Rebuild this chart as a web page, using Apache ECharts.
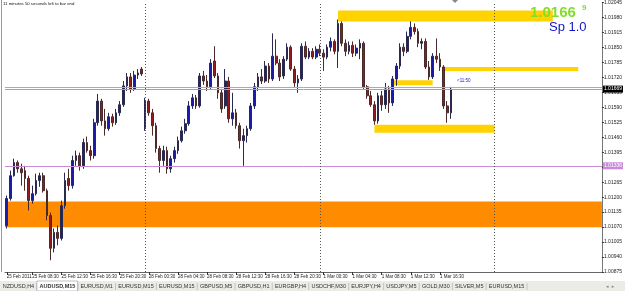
<!DOCTYPE html>
<html>
<head>
<meta charset="utf-8">
<script src="https://cdn.jsdelivr.net/npm/echarts@6/dist/echarts.min.js"></script>
<style>
  html, body { margin: 0; padding: 0; background: #fff; }
  #main { width: 625px; height: 291px; }
</style>
</head>
<body>
<div id="main"></div>
<script>
// AUDUSD M30 bars, [open, close, low, high]
const feb25 = [
  [1.01077, 1.01194, 1.01064, 1.01207], [1.01194, 1.01293, 1.01185, 1.01315],
  [1.01293, 1.01350, 1.01289, 1.01367], [1.01350, 1.01323, 1.01306, 1.01359],
  [1.01323, 1.01306, 1.01250, 1.01345], [1.01315, 1.01281, 1.01228, 1.01336],
  [1.01281, 1.01185, 1.01142, 1.01293], [1.01185, 1.01215, 1.01172, 1.01250],
  [1.01215, 1.01272, 1.01207, 1.01302], [1.01272, 1.01293, 1.01245, 1.01306],
  [1.01293, 1.01228, 1.01220, 1.01306], [1.01228, 1.01120, 1.01099, 1.01237],
  [1.01120, 1.00978, 1.00926, 1.01133], [1.00978, 1.01047, 1.00960, 1.01064],
  [1.01047, 1.01021, 1.00991, 1.01077], [1.01021, 1.01163, 1.01012, 1.01185],
  [1.01163, 1.01272, 1.01150, 1.01306], [1.01281, 1.01250, 1.01228, 1.01323],
  [1.01250, 1.01359, 1.01237, 1.01380], [1.01359, 1.01380, 1.01336, 1.01402],
  [1.01380, 1.01336, 1.01315, 1.01393], [1.01336, 1.01437, 1.01323, 1.01454],
  [1.01437, 1.01402, 1.01393, 1.01463], [1.01402, 1.01380, 1.01359, 1.01423],
  [1.01380, 1.01523, 1.01367, 1.01540], [1.01523, 1.01617, 1.01510, 1.01648],
  [1.01617, 1.01531, 1.01510, 1.01627], [1.01531, 1.01497, 1.01467, 1.01583],
  [1.01497, 1.01549, 1.01488, 1.01566], [1.01549, 1.01523, 1.01506, 1.01562],
  [1.01523, 1.01566, 1.01514, 1.01583], [1.01566, 1.01601, 1.01553, 1.01617],
  [1.01601, 1.01683, 1.01592, 1.01704], [1.01683, 1.01722, 1.01661, 1.01739],
  [1.01722, 1.01670, 1.01653, 1.01739], [1.01670, 1.01730, 1.01661, 1.01748],
  [1.01730, 1.01739, 1.01713, 1.01756], [1.01756, 1.01735, 1.01726, 1.01765]
];
const feb28 = [
  [1.01497, 1.01617, 1.01488, 1.01631], [1.01617, 1.01566, 1.01553, 1.01627],
  [1.01566, 1.01510, 1.01467, 1.01583], [1.01510, 1.01411, 1.01393, 1.01523],
  [1.01411, 1.01359, 1.01306, 1.01423], [1.01359, 1.01402, 1.01336, 1.01423],
  [1.01402, 1.01323, 1.01302, 1.01419], [1.01323, 1.01367, 1.01306, 1.01380],
  [1.01367, 1.01402, 1.01350, 1.01419], [1.01402, 1.01445, 1.01388, 1.01463],
  [1.01445, 1.01488, 1.01437, 1.01506], [1.01488, 1.01519, 1.01475, 1.01540],
  [1.01519, 1.01596, 1.01510, 1.01617], [1.01596, 1.01631, 1.01583, 1.01648],
  [1.01631, 1.01596, 1.01583, 1.01644], [1.01596, 1.01726, 1.01588, 1.01739],
  [1.01726, 1.01704, 1.01687, 1.01748], [1.01704, 1.01679, 1.01661, 1.01730],
  [1.01679, 1.01782, 1.01670, 1.01799], [1.01791, 1.01726, 1.01717, 1.01855],
  [1.01726, 1.01653, 1.01627, 1.01739], [1.01653, 1.01583, 1.01566, 1.01670],
  [1.01596, 1.01704, 1.01583, 1.01756], [1.01704, 1.01540, 1.01523, 1.01722],
  [1.01540, 1.01566, 1.01510, 1.01653], [1.01566, 1.01510, 1.01497, 1.01583],
  [1.01510, 1.01445, 1.01411, 1.01523], [1.01445, 1.01467, 1.01336, 1.01497],
  [1.01467, 1.01497, 1.01437, 1.01510], [1.01497, 1.01596, 1.01488, 1.01609],
  [1.01596, 1.01679, 1.01583, 1.01696], [1.01679, 1.01722, 1.01661, 1.01739],
  [1.01722, 1.01704, 1.01691, 1.01756], [1.01704, 1.01769, 1.01696, 1.01791],
  [1.01769, 1.01713, 1.01696, 1.01782], [1.01713, 1.01812, 1.01704, 1.01911],
  [1.01812, 1.01782, 1.01773, 1.01885], [1.01782, 1.01722, 1.01704, 1.01799],
  [1.01726, 1.01799, 1.01713, 1.01812], [1.01799, 1.01851, 1.01791, 1.01868],
  [1.01851, 1.01756, 1.01748, 1.01859], [1.01756, 1.01696, 1.01679, 1.01769],
  [1.01696, 1.01713, 1.01653, 1.01730], [1.01713, 1.01855, 1.01704, 1.01868],
  [1.01855, 1.01808, 1.01799, 1.01876], [1.01808, 1.01833, 1.01799, 1.01847],
  [1.01833, 1.01808, 1.01799, 1.01847], [1.01808, 1.01842, 1.01799, 1.01855]
];
const mar01 = [
  [1.01842, 1.01825, 1.01812, 1.01863], [1.01825, 1.01808, 1.01748, 1.01842],
  [1.01808, 1.01851, 1.01799, 1.01863], [1.01851, 1.01876, 1.01833, 1.01893],
  [1.01876, 1.01833, 1.01820, 1.01885], [1.01833, 1.01954, 1.01761, 1.01971],
  [1.01954, 1.01868, 1.01855, 1.01963], [1.01868, 1.01833, 1.01812, 1.01885],
  [1.01833, 1.01859, 1.01820, 1.01876], [1.01859, 1.01825, 1.01808, 1.01876],
  [1.01825, 1.01847, 1.01812, 1.01863], [1.01847, 1.01868, 1.01799, 1.01885],
  [1.01868, 1.01679, 1.01670, 1.01876], [1.01679, 1.01640, 1.01627, 1.01687],
  [1.01640, 1.01601, 1.01592, 1.01661], [1.01601, 1.01531, 1.01514, 1.01617],
  [1.01531, 1.01640, 1.01519, 1.01653], [1.01640, 1.01601, 1.01575, 1.01661],
  [1.01601, 1.01670, 1.01583, 1.01696], [1.01670, 1.01609, 1.01566, 1.01683],
  [1.01609, 1.01713, 1.01596, 1.01726], [1.01713, 1.01769, 1.01683, 1.01782],
  [1.01769, 1.01851, 1.01756, 1.01868], [1.01851, 1.01833, 1.01812, 1.01868],
  [1.01833, 1.01898, 1.01825, 1.01919], [1.01898, 1.01937, 1.01885, 1.01963],
  [1.01937, 1.01919, 1.01906, 1.01954], [1.01919, 1.01868, 1.01851, 1.01932],
  [1.01868, 1.01876, 1.01842, 1.01889], [1.01876, 1.01765, 1.01756, 1.01889],
  [1.01765, 1.01722, 1.01709, 1.01791], [1.01722, 1.01812, 1.01713, 1.01825],
  [1.01812, 1.01799, 1.01782, 1.01889], [1.01799, 1.01765, 1.01748, 1.01825],
  [1.01765, 1.01596, 1.01583, 1.01773], [1.01596, 1.01566, 1.01523, 1.01617],
  [1.01566, 1.01669, 1.01540, 1.01679]
];

// trading sessions: day, first half-hour slot, slot count
const sessions = [["25 Feb", 10, 38], ["28 Feb", 0, 48], ["1 Mar", 0, 48], ["2 Mar", 0, 30]];

// time axis labels
const tickIdx = [0, 7, 15, 23, 31, 39, 47, 55, 63, 71, 79, 87, 95, 103, 111, 119];
const tickLabels = ["25 Feb 2011", "25 Feb 08:30", "25 Feb 12:30", "25 Feb 16:30", "25 Feb 20:30",
  "28 Feb 00:30", "28 Feb 04:30", "28 Feb 08:30", "28 Feb 12:30", "28 Feb 16:30", "28 Feb 20:30",
  "1 Mar 00:30", "1 Mar 04:30", "1 Mar 08:30", "1 Mar 12:30", "1 Mar 16:30"];

// day separators (slot index)
const daySeparators = [38, 86, 134];

// price levels
const askPrice = 1.01679;
const bidPrice = 1.01669;
const purpleLevel = 1.01336;

// zones: [fromSlot, toSlot, top, bottom]
const yellowZones = [
  [91, 150, 1.02010, 1.01963],
  [120, 157, 1.01765, 1.01748],
  [106, 117, 1.01708, 1.01686],
  [101, 134, 1.01514, 1.01479]
];
const orangeZone = [1.01181, 1.01069];

const tabs = ["NZDUSD,H4", "AUDUSD,M15", "EURUSD,M1", "EURUSD,M15", "EURUSD,M15", "GBPUSD,M5",
  "GBPUSD,H1", "EURGBP,H4", "USDCHF,M30", "EURJPY,H4", "USDJPY,M5", "GOLD,M30", "SILVER,M5", "EURUSD,M15"];
const activeTab = 1;

const slots = [];
sessions.forEach(function (s) {
  for (let k = s[1]; k < s[1] + s[2]; k++) {
    const hh = String(Math.floor(k / 2)).padStart(2, "0");
    slots.push(s[0] + " " + hh + ":" + (k % 2 ? "30" : "00"));
  }
});
const candles = feb25.concat(feb28, mar01);

const FONT = "Liberation Sans";
const myChart = echarts.init(document.getElementById("main"));

// tab strip layout
const ctx = document.createElement("canvas").getContext("2d");
ctx.font = "5.5px " + FONT;
const textW = tabs.map(function (t) { return ctx.measureText(t).width; });
const pad = (527 - textW.reduce(function (a, b) { return a + b; }, 0)) / tabs.length;
const tabGraphics = [
  { type: "rect", shape: { x: 0, y: 281, width: 625, height: 10 }, style: { fill: "#ecebe6" }, silent: true }
];
let tx = 0;
tabs.forEach(function (t, i) {
  const w = textW[i] + pad;
  if (i === activeTab) {
    tabGraphics.push({ type: "rect", shape: { x: tx, y: 281, width: w, height: 10 },
      style: { fill: "#fff", stroke: "#999", lineWidth: 0.6 }, silent: true });
  }
  tabGraphics.push({ type: "text", x: tx + pad / 2, y: 283.5,
    style: { text: t, fontSize: 5.5, fontFamily: FONT, fontWeight: i === activeTab ? "bold" : "normal",
      fill: "#333", align: "left", verticalAlign: "top" }, silent: true });
  tabGraphics.push({ type: "line", shape: { x1: tx + w, y1: 283, x2: tx + w, y2: 290 },
    style: { stroke: "#a8a8a8", lineWidth: 0.6 }, silent: true });
  tx += w;
});

const option = {
  animation: false,
  backgroundColor: "#fff",
  grid: { left: 5, right: 20, top: 1, bottom: 19 },
  xAxis: {
    type: "category",
    data: slots,
    boundaryGap: true,
    axisLine: { lineStyle: { color: "#666", width: 1 } },
    axisTick: {
      show: true, alignWithLabel: true, length: 3,
      interval: function (i) { return tickIdx.indexOf(i) >= 0; },
      lineStyle: { color: "#333" }
    },
    axisLabel: {
      interval: function (i) { return tickIdx.indexOf(i) >= 0; },
      formatter: function (v, i) { return tickLabels[tickIdx.indexOf(i)]; },
      showMinLabel: true, hideOverlap: false,
      align: "left", fontSize: 4.5, fontFamily: FONT, color: "#222", margin: 2
    },
    splitLine: { show: false }
  },
  yAxis: {
    type: "value",
    position: "right",
    min: 1.00875,
    max: 1.02045,
    interval: 0.00065,
    axisLine: { show: true, lineStyle: { color: "#777" } },
    axisTick: { show: true, length: 2, lineStyle: { color: "#333" } },
    axisLabel: {
      fontSize: 5, fontFamily: FONT, color: "#222", margin: 2,
      formatter: function (v) { return v.toFixed(5); }
    },
    splitLine: { show: false }
  },
  series: [
    {
      // zones under the bars
      type: "line",
      data: [],
      z: 1,
      silent: true,
      markArea: {
        silent: true,
        precision: 5,
        data: [[
          { yAxis: orangeZone[0], itemStyle: { color: "#ff8c00" } },
          { yAxis: orangeZone[1] }
        ]].concat(yellowZones.map(function (z) {
          return [
            { xAxis: z[0], yAxis: z[2], itemStyle: { color: "#ffd200" } },
            { xAxis: z[1], yAxis: z[3] }
          ];
        }))
      }
    },
    {
      type: "candlestick",
      name: "AUDUSD,M15",
      data: candles,
      barWidth: 2.2,
      z: 3,
      itemStyle: {
        color: "#1a1aa6",
        color0: "#931c1c",
        borderColor: "#2a2a50",
        borderColor0: "#4d2a2a",
        borderWidth: 1
      }
    },
    {
      // price lines and day separators
      type: "line",
      data: [],
      z: 4,
      silent: true,
      markLine: {
        silent: true,
        precision: 5,
        symbol: ["none", "none"],
        animation: false,
        data: [
          { yAxis: askPrice, lineStyle: { color: "#5ec4f2", type: "solid", width: 1 }, label: { show: false } },
          {
            yAxis: bidPrice, lineStyle: { color: "#9ea2aa", type: "solid", width: 1 },
            label: { show: true, position: "end", distance: 1, formatter: function (p) { return Number(p.value).toFixed(5); },
              backgroundColor: "#000", color: "#fff", fontSize: 5, fontFamily: FONT, padding: [1, 1, 1, 1] }
          },
          {
            yAxis: purpleLevel, lineStyle: { color: "#c98ad8", type: "solid", width: 1 },
            label: { show: true, position: "end", distance: 1, formatter: function (p) { return Number(p.value).toFixed(5); },
              backgroundColor: "#c98ad8", color: "#fff", fontSize: 5, fontFamily: FONT, padding: [1, 1, 1, 1] }
          }
        ].concat(daySeparators.map(function (s) {
          return { xAxis: s, lineStyle: { color: "#555", type: [1, 2], width: 1 }, label: { show: false } };
        }))
      }
    }
  ],
  graphic: tabGraphics.concat([
    { type: "line", shape: { x1: 1.5, y1: 0, x2: 1.5, y2: 272 }, style: { stroke: "#9a9a9a", lineWidth: 1 }, silent: true },
    { type: "text", x: 3, y: 2, z: 10,
      style: { text: "11 minutes 50 seconds left to bar end", fontSize: 4.3, fontFamily: FONT, fill: "#111", align: "left", verticalAlign: "top" } },
    { type: "text", x: 530, y: 5, z: 10,
      style: { text: "1.0166", fontSize: 15, fontWeight: "bold", fontFamily: FONT, fill: "#84dc2c", align: "left", verticalAlign: "top" } },
    { type: "text", x: 582, y: 4, z: 10,
      style: { text: "9", fontSize: 8, fontWeight: "bold", fontFamily: FONT, fill: "#84dc2c", align: "left", verticalAlign: "top" } },
    { type: "text", x: 549, y: 21, z: 10,
      style: { text: "Sp 1.0", fontSize: 13, fontFamily: FONT, fill: "#1414c8", align: "left", verticalAlign: "top" } },
    { type: "text", x: 457, y: 78, z: 10,
      style: { text: "<11:50", fontSize: 4.5, fontFamily: FONT, fill: "#2222d0", align: "left", verticalAlign: "top" } },
    { type: "polygon", shape: { points: [[452, 0], [458, 0], [455, 3]] }, style: { fill: "#888" }, silent: true },
    { type: "text", x: 606, y: 284,
      style: { text: "◂  ▸", fontSize: 5, fontFamily: "DejaVu Sans", fill: "#888", align: "left", verticalAlign: "top" } }
  ])
};

myChart.setOption(option);
</script>
</body>
</html>
